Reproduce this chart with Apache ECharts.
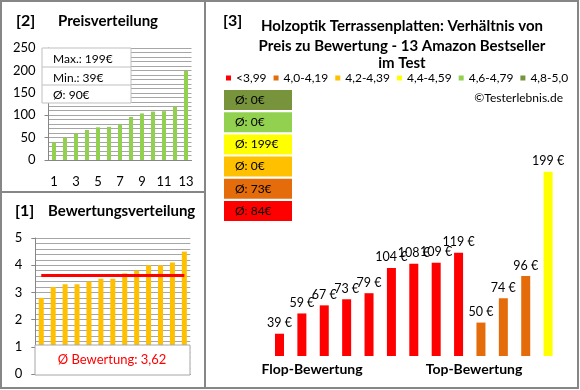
<!DOCTYPE html>
<html>
<head>
<meta charset="utf-8">
<script src="https://cdn.jsdelivr.net/npm/echarts@6/dist/echarts.min.js"></script>
<style>
html,body{margin:0;padding:0;background:#fff;}
#c{width:580px;height:390px;}
</style>
</head>
<body>
<div id="c"></div>
<script>
// ---- data ----
const priceCats = ['1','2','3','4','5','6','7','8','9','10','11','12','13'];
const priceValues = [39, 50, 59, 67, 73, 74, 79, 96, 104, 108, 109, 119, 199];
const priceTicks = [0, 50, 100, 150, 200, 250];

const ratingCats = ['1','2','3','4','5','6','7','8','9','10','11','12','13'];
const ratingValues = [2.8, 3.2, 3.3, 3.3, 3.4, 3.5, 3.5, 3.7, 3.8, 4.0, 4.0, 4.1, 4.5];
const ratingTicks = [0, 1, 2, 3, 4, 5];

const compareCats = ['1','2','3','4','5','6','7','8','9','10','11','12','13'];
const comparePrices = [39, 59, 67, 73, 79, 104, 108, 109, 119, 50, 74, 96, 199];
const compareRatings = [2.8, 3.2, 3.3, 3.3, 3.4, 3.5, 3.5, 3.7, 3.8, 4.0, 4.0, 4.1, 4.5];

const binLabels = ['<3,99', '4,0-4,19', '4,2-4,39', '4,4-4,59', '4,6-4,79', '4,8-5,0'];
const binLower = [0, 4.0, 4.2, 4.4, 4.6, 4.8];
const binColors = ['#FF0000', '#E46C0A', '#FFC000', '#FFFF00', '#92D050', '#77933C'];

const titleLines = ['Holzoptik Terrassenplatten: Verhältnis von', 'Preis zu Bewertung - 13 Amazon Bestseller', 'im Test'];

// ---- derived ----
const FONT = 'Lato';
function binOf(r){ let b = 0; for (let i = 0; i < binLower.length; i++) if (r >= binLower[i] - 1e-9) b = i; return b; }
const compareBins = compareRatings.map(binOf);
const binAvg = binLabels.map((_, i) => {
  const v = comparePrices.filter((p, k) => compareBins[k] === i);
  return v.length ? Math.round(v.reduce((a, b) => a + b, 0) / v.length) : 0;
});
const pMax = Math.max(...priceValues), pMin = Math.min(...priceValues);
const pAvg = Math.round(priceValues.reduce((a, b) => a + b, 0) / priceValues.length);
const rAvg = ratingValues.reduce((a, b) => a + b, 0) / ratingValues.length;
const rAvgTxt = rAvg.toFixed(2).replace('.', ',');

const axisGray = '#868686', gridGray = '#a6a6a6';

function txt(x, y, text, font, opt) {
  return Object.assign({ type: 'text', x: x, y: y, z: 100,
    style: Object.assign({ text: text, font: font, fill: '#000', textVerticalAlign: 'middle', verticalAlign: 'middle' }, opt || {}) });
}

const graphic = [];
// borders
graphic.push({ type: 'rect', z: 100, shape: { x: 1, y: 1, width: 577, height: 387 }, style: { fill: 'none', stroke: axisGray, lineWidth: 2 } });
graphic.push({ type: 'line', z: 100, shape: { x1: 205, y1: 1, x2: 205, y2: 388 }, style: { stroke: axisGray, lineWidth: 2 } });
graphic.push({ type: 'line', z: 100, shape: { x1: 1, y1: 192, x2: 205, y2: 192 }, style: { stroke: axisGray, lineWidth: 2 } });
// panel titles
graphic.push(txt(16, 21, '[2]', 'bold 16px ' + FONT));
graphic.push(txt(58, 21, 'Preisverteilung', 'bold 15px ' + FONT));
graphic.push(txt(15, 211, '[1]', 'bold 16px ' + FONT));
graphic.push(txt(48, 211, 'Bewertungsverteilung', 'bold 15px ' + FONT));
graphic.push(txt(223, 21, '[3]', 'bold 16px ' + FONT));
[26, 46, 63].forEach((y, i) => graphic.push(txt(402, y, titleLines[i], 'bold 15px ' + FONT, { textAlign: 'center', align: 'center' })));
graphic.push(txt(563, 98, '©Testerlebnis.de', '12px ' + FONT, { textAlign: 'right', align: 'right' }));
// price info box
graphic.push({ type: 'rect', z: 100, shape: { x: 42, y: 48, width: 89, height: 55 }, style: { fill: '#fff', stroke: '#bfbfbf', lineWidth: 1 } });
graphic.push({ type: 'line', z: 101, shape: { x1: 42, y1: 67, x2: 131, y2: 67 }, style: { stroke: '#bfbfbf', lineWidth: 1 } });
graphic.push({ type: 'line', z: 101, shape: { x1: 42, y1: 85, x2: 131, y2: 85 }, style: { stroke: '#bfbfbf', lineWidth: 1 } });
graphic.push(txt(53, 59, 'Max.: ' + pMax + '€', '12px ' + FONT));
graphic.push(txt(53, 78, 'Min.: ' + pMin + '€', '12px ' + FONT));
graphic.push(txt(53, 95, 'Ø: ' + pAvg + '€', '12px ' + FONT));
// rating average box
graphic.push({ type: 'rect', z: 100, shape: { x: 35, y: 345, width: 155, height: 30 }, style: { fill: '#fff', stroke: gridGray, lineWidth: 1 } });
graphic.push(txt(112, 360, 'Ø Bewertung: ' + rAvgTxt, '13px ' + FONT, { fill: '#FF0000', textAlign: 'center', align: 'center' }));
// bin average boxes (top: best bin)
for (let k = 0; k < binLabels.length; k++) {
  const i = binLabels.length - 1 - k;
  const y = 90 + k * 22.2;
  graphic.push({ type: 'rect', z: 100, shape: { x: 224, y: y, width: 68, height: 20 }, style: { fill: binColors[i] } });
  graphic.push(txt(235, y + 10, 'Ø: ' + binAvg[i] + '€', '12px ' + FONT));
}
// flop / top
graphic.push(txt(312, 369, 'Flop-Bewertung', 'bold 14px ' + FONT, { textAlign: 'center', align: 'center' }));
graphic.push(txt(474, 369, 'Top-Bewertung', 'bold 14px ' + FONT, { textAlign: 'center', align: 'center' }));

const labelStyle = { color: '#000', fontFamily: FONT, fontSize: 13 };

const option = {
  backgroundColor: '#fff',
  animation: false,
  textStyle: { fontFamily: FONT },
  grid: [
    { left: 48.5, top: 48, width: 143, height: 112 },
    { left: 35.3, top: 238, width: 155, height: 136 },
    { left: 268.3, top: 120, width: 291, height: 236 }
  ],
  legend: {
    data: binLabels, icon: 'rect', itemWidth: 5, itemHeight: 5, itemGap: 7,
    left: 226, top: 72, padding: 0, selectedMode: false,
    textStyle: { fontFamily: FONT, fontSize: 12, color: '#000' }
  },
  xAxis: [
    { type: 'category', gridIndex: 0, data: priceCats,
      axisLine: { lineStyle: { color: axisGray } }, axisTick: { show: false },
      axisLabel: Object.assign({ interval: 1, margin: 15 }, labelStyle) },
    { type: 'category', gridIndex: 1, data: ratingCats,
      axisLine: { lineStyle: { color: axisGray } }, axisTick: { show: false }, axisLabel: { show: false } },
    { type: 'category', gridIndex: 2, data: compareCats, show: false }
  ],
  yAxis: [
    { type: 'value', gridIndex: 0, min: priceTicks[0], max: priceTicks[priceTicks.length - 1], interval: priceTicks[1] - priceTicks[0],
      axisLine: { show: true, lineStyle: { color: axisGray } }, axisTick: { show: true, length: 4, lineStyle: { color: axisGray } },
      axisLabel: Object.assign({ margin: 13 }, labelStyle),
      splitLine: { lineStyle: { color: gridGray } },
      minorTick: { show: false, splitNumber: 5 }, minorSplitLine: { show: true, lineStyle: { color: gridGray } } },
    { type: 'value', gridIndex: 1, min: ratingTicks[0], max: ratingTicks[ratingTicks.length - 1], interval: ratingTicks[1] - ratingTicks[0],
      axisLine: { show: true, lineStyle: { color: axisGray } }, axisTick: { show: true, length: 4, lineStyle: { color: axisGray } },
      axisLabel: Object.assign({ margin: 13 }, labelStyle),
      splitLine: { lineStyle: { color: gridGray } },
      minorTick: { show: false, splitNumber: 5 }, minorSplitLine: { show: true, lineStyle: { color: gridGray } } },
    { type: 'value', gridIndex: 2, min: 17, max: 250, show: false, splitLine: { show: false } }
  ],
  series: [
    { type: 'bar', xAxisIndex: 0, yAxisIndex: 0, data: priceValues, barWidth: 4, itemStyle: { color: '#92D050' } },
    { type: 'bar', xAxisIndex: 1, yAxisIndex: 1, data: ratingValues, barWidth: 5, itemStyle: { color: '#FFC000' },
      markLine: { silent: true, symbol: 'none', label: { show: false },
        lineStyle: { color: '#FF0000', width: 3, type: 'solid' },
        data: [[{ coord: [0, rAvg] }, { coord: [ratingCats.length - 1, rAvg] }]] } },
    { type: 'bar', xAxisIndex: 2, yAxisIndex: 2, barWidth: 9,
      data: comparePrices.map((v, i) => ({ value: v, itemStyle: { color: binColors[compareBins[i]] } })),
      label: { show: true, position: 'top', distance: 4, formatter: '{c} €', color: '#000', fontFamily: FONT, fontSize: 12.5 } }
  ].concat(binLabels.map((n, i) => ({ type: 'line', name: n, xAxisIndex: 2, yAxisIndex: 2, data: [], itemStyle: { color: binColors[i] }, lineStyle: { color: binColors[i] } }))),
  graphic: graphic
};
const chart = echarts.init(document.getElementById('c'), null, { renderer: 'canvas' });
chart.setOption(option);
</script>
</body>
</html>
